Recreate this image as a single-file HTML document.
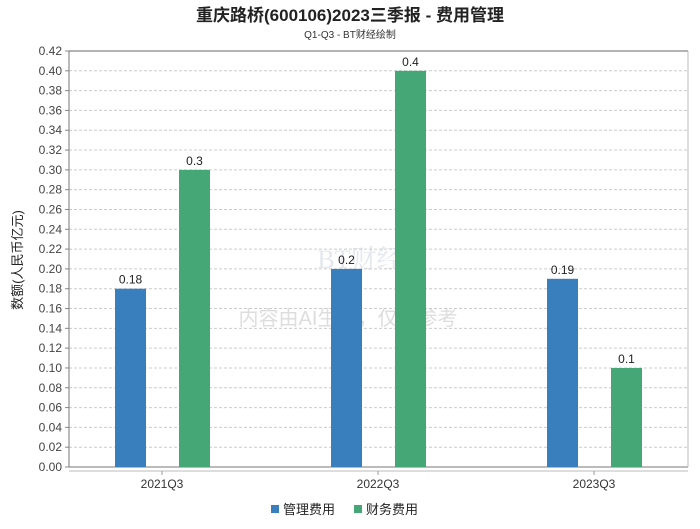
<!DOCTYPE html>
<html><head><meta charset="utf-8"><style>
body{margin:0;background:#fff;font-family:"Liberation Sans","Noto Sans CJK SC",sans-serif}
</style></head><body>
<svg id="c" width="700" height="524" xmlns="http://www.w3.org/2000/svg">
<text x="350" y="21" text-anchor="middle" font-size="17" font-weight="bold" fill="#222" font-family="Liberation Sans, Noto Sans CJK SC, sans-serif">重庆路桥(600106)2023三季报 - 费用管理</text>
<text x="350" y="38" text-anchor="middle" font-size="10" fill="#333" font-family="Liberation Sans, Noto Sans CJK SC, sans-serif">Q1-Q3 - BT财经绘制</text>
<text x="348" y="325" text-anchor="middle" font-size="20" fill="#ddd" font-family="Liberation Sans, Noto Sans CJK SC, sans-serif">内容由AI生成，仅供参考</text>
<text x="360" y="268" text-anchor="middle" font-size="26" fill="#e4e8ee" font-family="Liberation Serif, Noto Serif CJK SC, serif">BT财经</text>
<g id="grid"></g><g id="bars"></g>
<text transform="translate(22,260) rotate(-90)" text-anchor="middle" font-size="13" fill="#222" font-family="Liberation Sans, Noto Sans CJK SC, sans-serif">数额(人民币亿元)</text>
<g>
<rect x="271" y="505" width="8" height="8" fill="#3a7fbd"/>
<text x="283" y="514" font-size="13" fill="#222" font-family="Liberation Sans, Noto Sans CJK SC, sans-serif">管理费用</text>
<rect x="354" y="505" width="8" height="8" fill="#45a776"/>
<text x="366" y="514" font-size="13" fill="#222" font-family="Liberation Sans, Noto Sans CJK SC, sans-serif">财务费用</text>
</g>
</svg>
<script>
const categories=["2021Q3","2022Q3","2023Q3"];
const adminFee=[0.18,0.2,0.19];
const financeFee=[0.3,0.4,0.1];
const adminLabels=["0.18","0.2","0.19"];
const financeLabels=["0.3","0.4","0.1"];
const yTicks=[0,0.02,0.04,0.06,0.08,0.1,0.12,0.14,0.16,0.18,0.2,0.22,0.24,0.26,0.28,0.3,0.32,0.34,0.36,0.38,0.4,0.42];
const NS="http://www.w3.org/2000/svg";
const L=69,R=688,T=51,B=467;
const y=v=>B-(v/0.42)*(B-T);
const xc=i=>162+216*i;
const g=document.getElementById('grid'),b=document.getElementById('bars');
function mk(p,tag,a,t){const e=document.createElementNS(NS,tag);for(const k in a)e.setAttribute(k,a[k]);if(t!==undefined)e.textContent=t;p.appendChild(e);return e;}
yTicks.forEach(v=>{
 const yy=y(v);
 const ln=mk(g,'line',{x1:L,x2:R,y1:yy,y2:yy,stroke:v===0.42?'#666':'#ccc','stroke-dasharray':v===0.42?'':'3,2'});
 
 
 mk(g,'line',{x1:L-4,x2:L,y1:yy,y2:yy,stroke:'#888'});
 const t=mk(g,'text',{x:L-7,y:yy+4,'text-anchor':'end','font-size':12,fill:'#444'},v.toFixed(2));
 
 
});
mk(g,'line',{x1:L,x2:L,y1:T,y2:B,stroke:'#777'});
mk(g,'line',{x1:L,x2:R,y1:B,y2:B,stroke:'#777'});
mk(g,'line',{x1:R,x2:R,y1:T,y2:B,stroke:'#bbb'});
mk(g,'line',{x1:L,x2:R,y1:B+4,y2:B+4,stroke:'#bbb'});
categories.forEach((c,i)=>{
 mk(g,'line',{x1:xc(i),x2:xc(i),y1:B+4,y2:B+8,stroke:'#999'});
 const t=mk(g,'text',{x:xc(i),y:B+21,'text-anchor':'middle','font-size':12,fill:'#333'},c);
 
 
 [[adminFee,adminLabels,-47,'#3a7fbd','bar-admin'],[financeFee,financeLabels,17,'#45a776','bar-finance']].forEach(s=>{
  const v=s[0][i],x0=xc(i)+s[2];
  const r=mk(b,'rect',{x:x0,y:y(v),width:31,height:B-y(v),fill:s[3]});
  
  
  const lt=mk(b,'text',{x:x0+15.5,y:y(v)-5,'text-anchor':'middle','font-size':12,fill:'#222'},s[1][i]);
  
  
 });
});
</script>
</body></html>
